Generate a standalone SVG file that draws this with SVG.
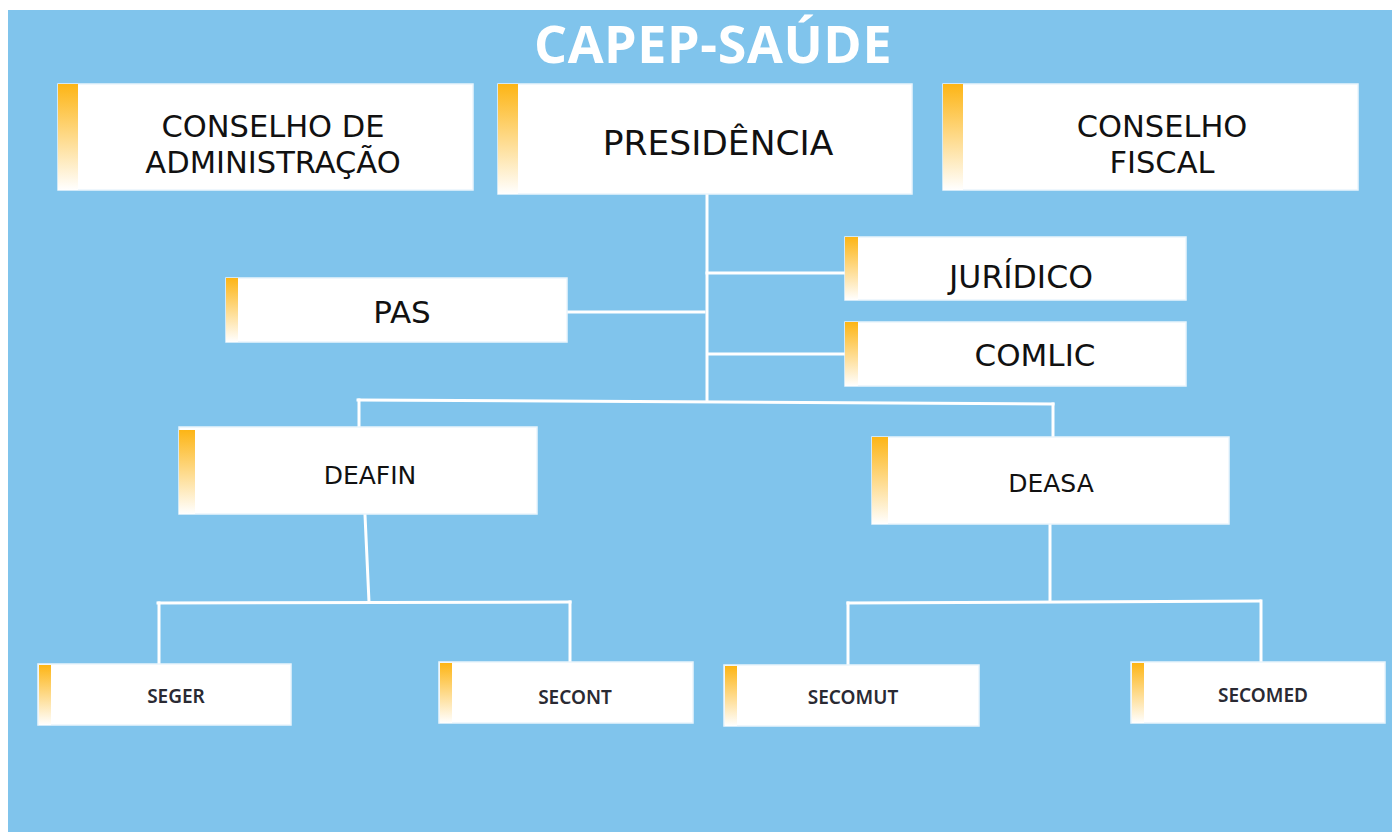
<svg xmlns="http://www.w3.org/2000/svg" width="1392" height="832" viewBox="0 0 1392 832">
<defs>
<linearGradient id="acc" x1="0" y1="0" x2="0" y2="1">
<stop offset="0" stop-color="#FDB515"/>
<stop offset="1" stop-color="#FFFFFF"/>
</linearGradient>
<style>
.box{fill:#FFFFFF;stroke:#EAF5FC;stroke-width:1.5}
.t{font-family:"DejaVu Sans","Noto Sans",sans-serif;fill:#111111;text-anchor:middle}
.s{font-family:"Noto Sans","Open Sans",sans-serif;fill:#2A2A33;text-anchor:middle;font-weight:600;font-size:19px}
.ln{stroke:#FFFFFF;stroke-width:3;fill:none;stroke-linecap:square}
</style>
</defs>
<rect x="0" y="0" width="1392" height="832" fill="#FFFFFF"/>
<rect x="8" y="10" width="1384" height="822" fill="#80C4EC"/>
<text x="713" y="63" font-family="'Open Sans','Noto Sans',sans-serif" font-weight="700" font-size="52" letter-spacing="0.6" fill="#FFFFFF" text-anchor="middle">CAPEP-SAÚDE</text>
<g id="connectors">
<path class="ln" d="M707 195 V400"/>
<path class="ln" d="M707 273 H845"/>
<path class="ln" d="M708 354 H845"/>
<path class="ln" d="M567 312 H704"/>
<path class="ln" d="M358 400 L1053 404"/>
<path class="ln" d="M359 400 V427"/>
<path class="ln" d="M1053 404 V437"/>
<path class="ln" d="M365 515 L369 602"/>
<path class="ln" d="M158 603 L570 602"/>
<path class="ln" d="M159 603 V664"/>
<path class="ln" d="M570 602 V662"/>
<path class="ln" d="M1050 525 V601"/>
<path class="ln" d="M848 603 L1260 601"/>
<path class="ln" d="M848 603 V665"/>
<path class="ln" d="M1261 601 V662"/>
</g>
<g id="conselho-adm">
<rect class="box" x="58" y="84" width="415" height="106"/>
<rect x="58" y="84" width="20" height="106" fill="url(#acc)"/>
<text class="t" x="273" y="137" font-size="30.5">CONSELHO DE</text>
<text class="t" x="273" y="173" font-size="30.5">ADMINISTRAÇÃO</text>
</g>
<g id="presidencia">
<rect class="box" x="498" y="84" width="414" height="110"/>
<rect x="498" y="84" width="20" height="110" fill="url(#acc)"/>
<text class="t" x="718" y="155" font-size="34.5">PRESIDÊNCIA</text>
</g>
<g id="conselho-fiscal">
<rect class="box" x="943" y="84" width="415" height="106"/>
<rect x="943" y="84" width="20" height="106" fill="url(#acc)"/>
<text class="t" x="1162" y="137" font-size="30.5">CONSELHO</text>
<text class="t" x="1162" y="173" font-size="30.5">FISCAL</text>
</g>
<g id="juridico">
<rect class="box" x="845" y="237" width="341" height="63"/>
<rect x="845" y="237" width="13" height="63" fill="url(#acc)"/>
<text class="t" x="1021" y="288" font-size="31.5">JURÍDICO</text>
</g>
<g id="comlic">
<rect class="box" x="845" y="322" width="341" height="64"/>
<rect x="845" y="322" width="13" height="64" fill="url(#acc)"/>
<text class="t" x="1035" y="366" font-size="31">COMLIC</text>
</g>
<g id="pas">
<rect class="box" x="226" y="278" width="341" height="64"/>
<rect x="226" y="278" width="12" height="64" fill="url(#acc)"/>
<text class="t" x="402" y="323" font-size="31">PAS</text>
</g>
<g id="deafin">
<rect class="box" x="179" y="427" width="358" height="87"/>
<rect x="179" y="430" width="16" height="84" fill="url(#acc)"/>
<text class="t" x="370" y="484" font-size="25">DEAFIN</text>
</g>
<g id="deasa">
<rect class="box" x="872" y="437" width="357" height="87"/>
<rect x="872" y="437" width="16" height="87" fill="url(#acc)"/>
<text class="t" x="1051" y="492" font-size="25">DEASA</text>
</g>
<g id="seger">
<rect class="box" x="38" y="664" width="253" height="61"/>
<rect x="39" y="665" width="12" height="60" fill="url(#acc)"/>
<text class="s" x="176" y="703">SEGER</text>
</g>
<g id="secont">
<rect class="box" x="439" y="662" width="254" height="61"/>
<rect x="440" y="663" width="12" height="60" fill="url(#acc)"/>
<text class="s" x="575" y="704">SECONT</text>
</g>
<g id="secomut">
<rect class="box" x="724" y="665" width="255" height="61"/>
<rect x="725" y="666" width="12" height="60" fill="url(#acc)"/>
<text class="s" x="853" y="704">SECOMUT</text>
</g>
<g id="secomed">
<rect class="box" x="1131" y="662" width="254" height="61"/>
<rect x="1132" y="663" width="12" height="60" fill="url(#acc)"/>
<text class="s" x="1263" y="702">SECOMED</text>
</g>
</svg>
